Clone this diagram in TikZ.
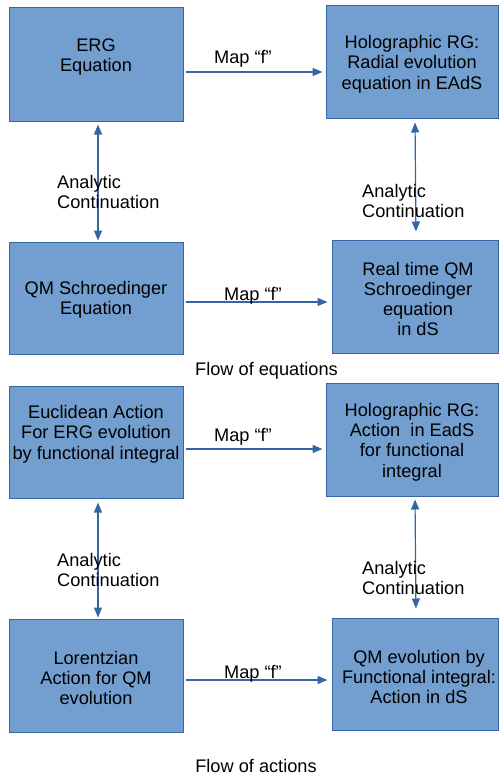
\documentclass[tikz,border=0pt]{standalone}
\usepackage{fontspec}
\setmainfont{Liberation Sans}
\usetikzlibrary{arrows.meta}
\definecolor{boxfill}{HTML}{729FCF}
\definecolor{boxline}{HTML}{3465A4}
\begin{document}
\begin{tikzpicture}[x=1pt,y=-1pt,
  txt/.style={font=\fontsize{18.2}{20.3}\selectfont, align=center, inner sep=0pt},
  ltxt/.style={font=\fontsize{18.2}{20.3}\selectfont, align=left, inner sep=0pt, anchor=west},
  box/.style={draw=boxline, fill=boxfill, line width=1pt, inner sep=0pt},
  conn/.style={draw=boxline, line width=1.2pt, -{Triangle[length=10pt,width=8pt]}},
  dconn/.style={draw=boxline, line width=1.2pt, {Triangle[length=10pt,width=8pt]}-{Triangle[length=10pt,width=8pt]}}
]
\useasboundingbox (0,0) rectangle (498,776);
% boxes
\node[box, minimum width=174pt, minimum height=113pt] (b1) at (96,64.5) {};
\node[box, minimum width=172pt, minimum height=112pt] (b2) at (412,62) {};
\node[box, minimum width=174pt, minimum height=112pt] (b3) at (96,298) {};
\node[box, minimum width=166pt, minimum height=113pt] (b4) at (415,296.5) {};
\node[box, minimum width=174pt, minimum height=112pt] (b5) at (96,442) {};
\node[box, minimum width=172pt, minimum height=113pt] (b6) at (412,439.5) {};
\node[box, minimum width=174pt, minimum height=113pt] (b7) at (96,675.5) {};
\node[box, minimum width=166pt, minimum height=112pt] (b8) at (415,674) {};
% box texts
\node[txt] (t1) at (96,57) {ERG\\Equation};
\node[txt] (t2) at (412,64) {Holographic RG:\\Radial evolution\\equation in EAdS};
\node[txt] (t3) at (96,300) {QM Schroedinger\\Equation};
\node[txt] (t4) at (418,299) {Real time QM\\Schroedinger\\equation\\in dS};
\node[txt] (t5) at (96,434) {Euclidean Action\\For ERG evolution\\by functional integral};
\node[txt] (t6) at (412,442) {Holographic RG:\\Action\ \ in EadS\\for functional\\integral};
\node[txt] (t7) at (96,678) {Lorentzian\\Action for QM\\evolution};
\node[txt] (t8) at (419,677) {QM evolution by\\Functional integral:\\Action in dS};
% horizontal arrows
\coordinate (h1) at ([xshift=2pt,yshift=-7.5pt]b1.east);
\draw[conn, shorten >=3pt] (h1) -- (h1 -| b2.west);
\coordinate (h2) at ([xshift=2pt,yshift=-4pt]b3.east);
\draw[conn, shorten >=4pt] (h2) -- (h2 -| b4.west);
\coordinate (h3) at ([xshift=2pt,yshift=-7pt]b5.east);
\draw[conn, shorten >=3pt] (h3) -- (h3 -| b6.west);
\coordinate (h4) at ([xshift=2pt,yshift=-4.5pt]b7.east);
\draw[conn, shorten >=4pt] (h4) -- (h4 -| b8.west);
% vertical arrows
\draw[dconn, shorten <=3pt, shorten >=1pt] ([xshift=2pt]b1.south) -- ([xshift=2pt]b3.north);
\draw[dconn, shorten <=4pt, shorten >=8pt] (b2.south -| b4.north) -- ([xshift=1pt]b4.north);
\draw[dconn, shorten <=4pt, shorten >=1pt] ([xshift=2pt]b5.south) -- ([xshift=2pt]b7.north);
\draw[dconn, shorten <=3pt, shorten >=9pt] (b6.south -| b8.north) -- ([xshift=1pt]b8.north);
% map labels
\node[txt] (m1) at (243,59) {Map “f”};
\node[txt] (m2) at (253,296) {Map “f”};
\node[txt] (m3) at (243,437) {Map “f”};
\node[txt] (m4) at (253,674) {Map “f”};
% analytic continuation labels
\node[ltxt] (a1) at (57,192) {Analytic\\Continuation};
\node[ltxt] (a2) at (362,201) {Analytic\\Continuation};
\node[ltxt] (a3) at (57,570) {Analytic\\Continuation};
\node[ltxt] (a4) at (362,578) {Analytic\\Continuation};
% captions
\node[txt] (c1) at (266.5,371) {Flow of equations};
\node[txt] (c2) at (256,766) {Flow of actions};
\end{tikzpicture}
\end{document}
